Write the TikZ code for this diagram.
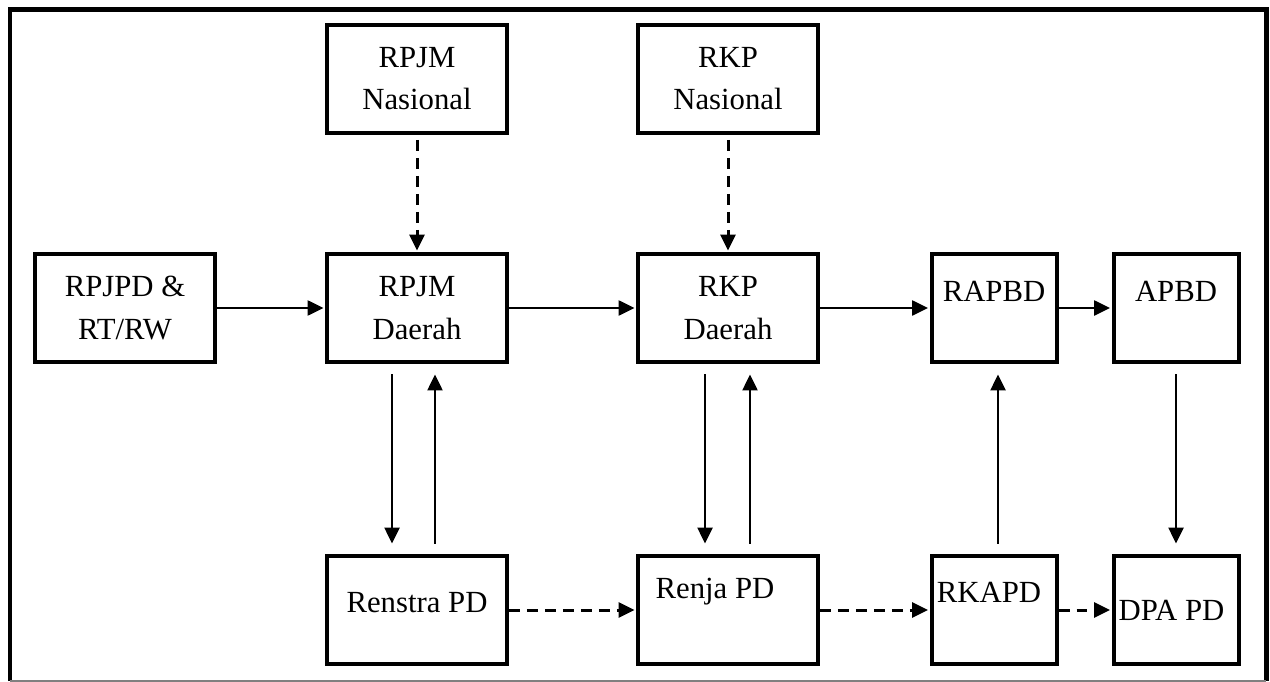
\documentclass[tikz,border=0pt]{standalone}
\usepackage{fontspec}
\setmainfont{Liberation Serif}
\usetikzlibrary{arrows.meta}

\tikzset{
  plan/.style={draw, line width=0.08cm, minimum width=3.6cm, minimum height=2.16cm,
    inner sep=0pt, align=center, font=\fontsize{17.5}{24}\selectfont},
  plansmall/.style={plan, minimum width=2.5cm},
  flow/.style={-{Triangle[length=0.32cm,width=0.3cm]}, line width=0.05cm, shorten >=0.03cm},
  flowdash/.style={flow, line width=0.06cm, dash pattern=on 0.22cm off 0.14cm},
  spaced/.style={shorten <=0.21cm, shorten >=0.21cm}
}

\begin{document}
\begin{tikzpicture}[x=0.02cm, y=-0.02cm]
\useasboundingbox (0,0) rectangle (1270,682);
% Frame
\draw[line width=0.1cm] (10,681) -- (10,10) -- (1266,10) -- (1266,681);
\draw[gray, line width=0.03cm] (10,681) -- (1266,681);

% National plans
\node[plan] (rpjmnas) at (417,79) {RPJM\\Nasional};
\node[plan] (rkpnas) at (728,79) {RKP\\Nasional};

% Regional plans
\node[plan] (rpjpd) at (125,308) {RPJPD \&\\RT/RW};
\node[plan] (rpjmd) at (417,308) {RPJM\\Daerah};
\node[plan] (rkpd) at (728,308) {RKP\\Daerah};
\node[plansmall, text depth=0.68cm] (rapbd) at (994,308) {RAPBD};
\node[plansmall, text depth=0.68cm] (apbd) at (1176,308) {APBD};

% Agency documents
\node[plan, text depth=0.3cm] (renstra) at (417,610) {Renstra PD};
\node[plan, text depth=0.88cm] (renja) at (728,610) {\hspace*{-0.52cm}Renja PD};
\node[plansmall, text depth=0.72cm] (rkapd) at (994,610) {\hspace*{-0.2cm}RKAPD};
\node[plansmall] (dpa) at (1176,610) {\hspace*{-0.18cm}DPA PD};

% Main flow
\draw[flow] (rpjpd) -- (rpjmd);
\draw[flow] (rpjmd) -- (rkpd);
\draw[flow] (rkpd) -- (rapbd);
\draw[flow] (rapbd) -- (apbd);

% Guidance from national level
\draw[flowdash, shorten <=0.1cm] (rpjmnas) -- (rpjmd);
\draw[flowdash, shorten <=0.1cm] (rkpnas) -- (rkpd);

% Up and down
\draw[flow, spaced] ([xshift=-0.5cm]rpjmd.south) -- ([xshift=-0.5cm]renstra.north);
\draw[flow, spaced] ([xshift=0.36cm]renstra.north) -- ([xshift=0.36cm]rpjmd.south);
\draw[flow, spaced] ([xshift=-0.46cm]rkpd.south) -- ([xshift=-0.46cm]renja.north);
\draw[flow, spaced] ([xshift=0.44cm]renja.north) -- ([xshift=0.44cm]rkpd.south);
\draw[flow, spaced] ([xshift=0.08cm]rkapd.north) -- ([xshift=0.08cm]rapbd.south);
\draw[flow, spaced] (apbd.south) -- (dpa.north);

% Agency flow
\draw[flowdash] (renstra) -- (renja);
\draw[flowdash] (renja) -- (rkapd);
\draw[flowdash] (rkapd) -- (dpa);
\end{tikzpicture}
\end{document}
